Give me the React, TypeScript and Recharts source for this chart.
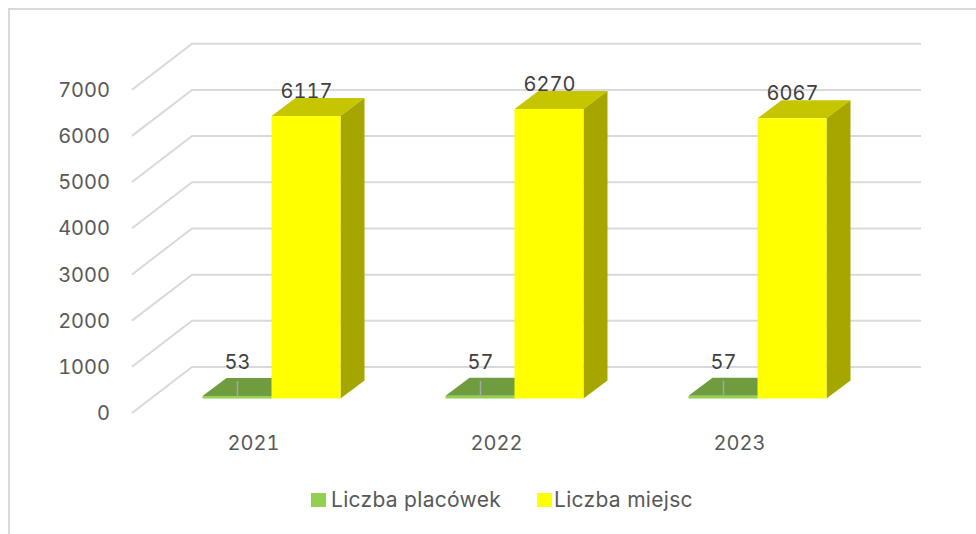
import { Bar, BarChart, CartesianGrid, LabelList, Legend, XAxis, YAxis } from "recharts";

const years = ["2021", "2022", "2023"];
const placowki = [53, 57, 57];
const miejsca = [6117, 6270, 6067];
const yTicks = [0, 1000, 2000, 3000, 4000, 5000, 6000, 7000];

const chartData = years.map((year, i) => ({
  year,
  placowki: placowki[i],
  miejsca: miejsca[i],
}));

const FONT = "Inter, sans-serif";
const GRID = "#D9D9D9";
const TABULAR = { fontVariantNumeric: "tabular-nums" };

// the fake 3D: floor sits between the front plane (labels) and back wall (grid)
const BAR_DX = 24;
const BAR_DY = -18;

function Box3D({ x, y, width, height, front, top, side }: any) {
  const r = x + width;
  const b = y + height;
  return (
    <g>
      <polygon
        points={`${x},${y} ${x + BAR_DX},${y + BAR_DY} ${r + BAR_DX},${y + BAR_DY} ${r},${y}`}
        fill={top}
      />
      <polygon
        points={`${r},${y} ${r + BAR_DX},${y + BAR_DY} ${r + BAR_DX},${b + BAR_DY} ${r},${b}`}
        fill={side}
      />
      <rect x={x} y={y} width={width} height={height} fill={front} />
    </g>
  );
}

const GreenBox = (props: any) => (
  <Box3D {...props} front="#92D050" top="#6F9C3E" side="#5F8735" />
);
const YellowBox = (props: any) => (
  <Box3D {...props} front="#FFFF00" top="#C6C600" side="#A6A600" />
);

function WallLine({ y1, key }: any) {
  return (
    <polyline
      key={key}
      points={`132,${y1 + 14.5} 192,${y1 - 31.5} 921,${y1 - 31.5}`}
      fill="none"
      stroke={GRID}
      strokeWidth={2}
    />
  );
}

function ValueTick({ y, payload }: any) {
  return (
    <text x={110} y={y + 21.6} textAnchor="end" fontFamily={FONT} fontSize={20} fill="#595959" style={TABULAR}>
      {payload.value}
    </text>
  );
}

function YearTick({ x, payload }: any) {
  return (
    <text x={x - 17.5} y={450} textAnchor="middle" fontFamily={FONT} fontSize={20} fill="#595959" style={TABULAR}>
      {payload.value}
    </text>
  );
}

function BarLabel({ x, y, width, value }: any) {
  const cx = x + width / 2 + 0.5;
  const small = value < 1000;
  return (
    <g>
      {small && <line x1={cx} x2={cx} y1={y - 15} y2={y} stroke="#A6A6A6" strokeWidth={1.5} />}
      <text
        x={cx}
        y={small ? y - 27 : y - 18}
        textAnchor="middle"
        fontFamily={FONT}
        fontSize={20}
        fill="#404040"
        style={TABULAR}
      >
        {value}
      </text>
    </g>
  );
}

function ChartLegend({ payload }: any) {
  return (
    <div
      style={{
        display: "flex",
        alignItems: "center",
        fontFamily: FONT,
        fontSize: 21,
        letterSpacing: 0.3,
        whiteSpace: "nowrap",
        color: "#595959",
      }}
    >
      {(payload ?? []).map((item: any, i: number) => (
        <div key={item.value} style={{ display: "flex", alignItems: "center", marginRight: i === 0 ? 36 : 0 }}>
          <span style={{ width: 15, height: 14, background: item.color, marginRight: i === 0 ? 5 : 2, display: "block" }} />
          {item.value}
        </div>
      ))}
    </div>
  );
}

export default function App() {
  return (
    <div style={{ position: "absolute", left: 0, top: 0, width: 976, height: 534, overflow: "hidden", background: "#fff" }}>
      <div
        style={{
          position: "absolute",
          left: 8,
          top: 8,
          right: 0,
          bottom: 0,
          borderTop: `2px solid ${GRID}`,
          borderLeft: `2px solid ${GRID}`,
        }}
      />
      <BarChart
        width={976}
        height={534}
        data={chartData}
        barSize={69}
        barGap={0}
        margin={{ top: 75.2, right: 97.5, bottom: 105.5, left: 89.5 }}
      >
        <CartesianGrid vertical={false} horizontal={WallLine} />
        <XAxis dataKey="year" height={30} axisLine={false} tickLine={false} tick={YearTick} />
        <YAxis width={60} domain={[0, 7000]} ticks={yTicks} axisLine={false} tickLine={false} tick={ValueTick} />
        <Legend
          layout="horizontal"
          verticalAlign="middle"
          align="center"
          itemSorter={null}
          content={ChartLegend}
          wrapperStyle={{ top: 487, left: 311, width: "auto" }}
        />
        <Bar dataKey="placowki" name="Liczba placówek" fill="#92D050" shape={GreenBox} isAnimationActive={false}>
          <LabelList dataKey="placowki" content={BarLabel} />
        </Bar>
        <Bar dataKey="miejsca" name="Liczba miejsc" fill="#FFFF00" shape={YellowBox} isAnimationActive={false}>
          <LabelList dataKey="miejsca" content={BarLabel} />
        </Bar>
      </BarChart>
    </div>
  );
}
